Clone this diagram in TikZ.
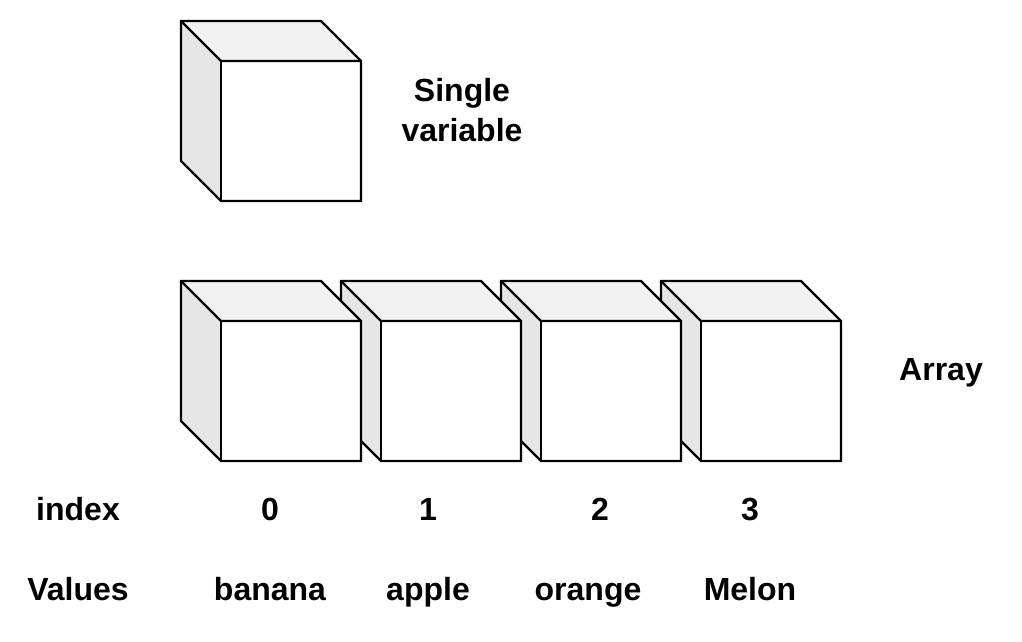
\documentclass[tikz,border=0pt]{standalone}
\usepackage{fontspec}
\setmainfont{Liberation Sans}
\definecolor{topface}{HTML}{F2F2F2}
\definecolor{sideface}{HTML}{E6E6E6}
\tikzset{
  lbl/.style={font=\fontsize{32}{40}\selectfont\bfseries, inner sep=0pt, anchor=base},
  edge/.style={line width=2.4pt, draw=black},
  pics/cube/.style={code={
    \fill[white] (0,0) -- (140,0) -- (180,40) -- (180,180) -- (40,180) -- (0,140) -- cycle;
    \fill[topface] (0,0) -- (140,0) -- (180,40) -- (40,40) -- cycle;
    \fill[sideface] (0,0) -- (40,40) -- (40,180) -- (0,140) -- cycle;
    \draw[edge] (0,0) -- (140,0) -- (180,40) -- (180,180) -- (40,180) -- (0,140) -- cycle;
    \draw[edge] (0,0) -- (40,40) -- (180,40);
    \draw[edge] (40,40) -- (40,180);
  }}
}
\begin{document}
\begin{tikzpicture}[x=1pt,y=-1pt]
\useasboundingbox (0,0) rectangle (1022,642);
% single variable cube
\pic at (181,21) {cube};
% array cubes, drawn right to left so the left cube lies on top
\foreach \cx in {661,501,341,181} {\pic at (\cx,281) {cube};}
% labels
\node[lbl, align=center, anchor=center] (single) at (462,110) {Single\\variable};
\node[lbl] (array) at (941,380) {Array};
\node[lbl] (index) at (78,520) {index};
\node[lbl] (i0) at (270,520) {0};
\node[lbl] (i1) at (428,520) {1};
\node[lbl] (i2) at (600,520) {2};
\node[lbl] (i3) at (750,520) {3};
\node[lbl] (values) at (78,600) {Values};
\node[lbl] (v0) at (270,600) {banana};
\node[lbl] (v1) at (428,600) {apple};
\node[lbl] (v2) at (588,600) {orange};
\node[lbl] (v3) at (750,600) {Melon};
\end{tikzpicture}
\end{document}
